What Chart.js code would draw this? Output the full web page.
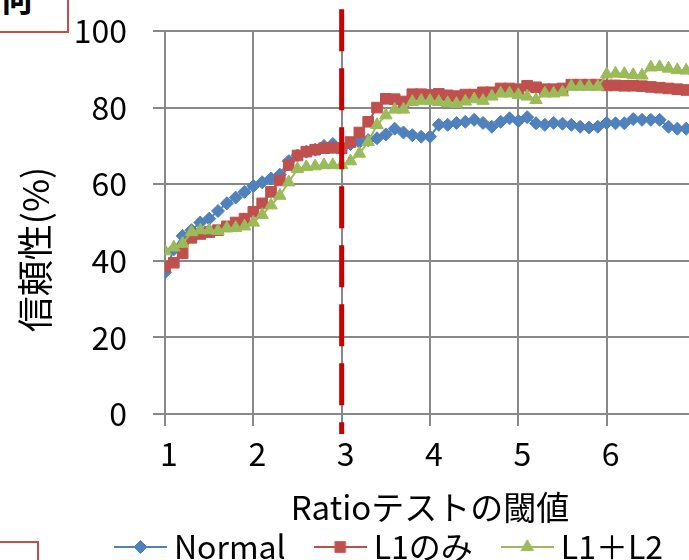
<!DOCTYPE html>
<html>
<head>
<meta charset="utf-8">
<script src="https://cdn.jsdelivr.net/npm/chart.js@4/dist/chart.umd.min.js"></script>
<style>
  html, body { margin: 0; padding: 0; background: #fff; overflow: hidden; width: 689px; height: 560px; }
  #wrap { position: absolute; left: 0; top: 0; width: 786px; height: 573px; }
  .note { position: absolute; box-sizing: border-box; border: 2px solid #c0504d; background: #fff; overflow: hidden; }
  .note span { position: absolute; font: bold 34px "Noto Sans CJK JP", sans-serif; line-height: 1; color: #000; }
</style>
</head>
<body>
<div id="wrap"><canvas id="chart" width="786" height="573"></canvas></div>
<div class="note" style="left:-200px; top:-60px; width:269px; height:93px;"><span style="right:34px; top:39px;">何</span></div>
<div class="note" style="left:-200px; top:541px; width:239px; height:100px;"></div>
<script>
// Ratio test threshold (x axis)
const thresholds = [
  1.0, 1.1, 1.2, 1.3, 1.4, 1.5, 1.6, 1.7, 1.8, 1.9,
  2.0, 2.1, 2.2, 2.3, 2.4, 2.5, 2.6, 2.7, 2.8, 2.9,
  3.0, 3.1, 3.2, 3.3, 3.4, 3.5, 3.6, 3.7, 3.8, 3.9,
  4.0, 4.1, 4.2, 4.3, 4.4, 4.5, 4.6, 4.7, 4.8, 4.9,
  5.0, 5.1, 5.2, 5.3, 5.4, 5.5, 5.6, 5.7, 5.8, 5.9,
  6.0, 6.1, 6.2, 6.3, 6.4, 6.5, 6.6, 6.7, 6.8, 6.9,
  7.0
];

// Reliability (%) per threshold
const normal = [
  37, 43, 46.5, 48, 50, 51, 53, 55, 56.5, 58,
  59.5, 60.5, 61.5, 62.5, 66, 67.5, 68.5, 69, 70, 70.5,
  69.5, 70.5, 71, 71.5, 72, 73, 74.5, 73.5, 72.8, 72.4,
  72.4, 75.5, 75.5, 76, 76.3, 76.8, 76, 75, 76.3, 77.2,
  76.5, 77.5, 75.9, 75.5, 76, 75.8, 75.5, 75, 74.8, 75,
  76, 75.9, 75.9, 77, 76.8, 76.8, 76.8, 75, 74.5, 74.5,
  74.5
];
const l1Only = [
  38.5, 39.5, 42, 46, 47, 47.5, 48, 49, 50, 51,
  52.8, 55, 58, 61, 65, 67.5, 68.5, 69, 69.4, 69.5,
  69.4, 71, 73.5, 76.3, 80, 82.3, 82.2, 81.6, 83.5, 83.5,
  83.3, 83.6, 83.2, 83, 83.4, 83.4, 84, 84, 85, 85,
  84.8, 85.7, 85.3, 84.8, 84.8, 85, 86, 86, 86, 86,
  85.8, 85.8, 85.7, 85.7, 85.6, 85.4, 85.2, 85, 84.8, 84.6,
  84.5
];
const l1PlusL2 = [
  42.5, 43.5, 44.5, 47.5, 48, 48, 47.8, 48.5, 48.6, 49,
  50, 52, 54.5, 57, 60.5, 64, 64.5, 64.7, 65, 65,
  65, 66, 68, 71, 75.5, 78, 79.5, 79.5, 81.5, 81.8,
  81.8, 81.5, 81.2, 81, 81.6, 82.2, 81.8, 82.9, 83.7, 83.7,
  83.3, 82.9, 82, 83.7, 83.7, 84, 85.5, 85.5, 85.5, 85.5,
  88.7, 88.9, 88.8, 88.5, 88.4, 90.5, 90.6, 90.2, 89.8, 89.7,
  89.5
];

// Selected threshold marker (vertical dashed line)
const selectedThreshold = 3;
const markerSpan = [105.7, -5.2];

const seriesNames = ['Normal', 'L1のみ', 'L1＋L2'];
const xTickValues = [1, 2, 3, 4, 5, 6, 7];
const yTickValues = [0, 20, 40, 60, 80, 100];

const FONT = '"Noto Sans CJK JP", sans-serif';
const GRID = '#888888';
const CHART_W = 786;
const PLOT_LEFT = 165;
const PLOT_RIGHT = 695;
const PLOT_BOTTOM = 414;

const styles = [
  { color: '#4f81bd', pointStyle: 'rectRot', radius: 6.5 },
  { color: '#c0504d', pointStyle: 'rect', radius: 7.5 },
  { color: '#9bbb59', pointStyle: 'triangle', radius: 7.2 }
];

// Legend symbols: short line with the series marker in the middle
function legendSymbol(s) {
  const c = document.createElement('canvas');
  c.width = 53; c.height = 18;
  const ctx = c.getContext('2d');
  ctx.strokeStyle = s.color;
  ctx.lineWidth = 2;
  ctx.beginPath(); ctx.moveTo(0, 9); ctx.lineTo(53, 9); ctx.stroke();
  ctx.fillStyle = s.color;
  ctx.lineWidth = 1;
  Chart.helpers.drawPoint(ctx, { pointStyle: s.pointStyle, radius: s.radius, borderWidth: 1, rotation: 0 }, 26.5, 9);
  return c;
}
const symbols = styles.map(legendSymbol);

function toPoints(values) {
  return thresholds.map((t, i) => ({ x: t, y: values[i] }));
}

const seriesValues = [normal, l1Only, l1PlusL2];
const datasets = seriesValues.map((vals, i) => ({
  label: seriesNames[i],
  data: toPoints(vals),
  borderColor: styles[i].color,
  backgroundColor: styles[i].color,
  borderWidth: 2,
  pointStyle: styles[i].pointStyle,
  pointRadius: styles[i].radius,
  pointHoverRadius: styles[i].radius,
  pointBorderWidth: 1,
  pointBorderColor: styles[i].color,
  pointBackgroundColor: styles[i].color,
  tension: 0,
  order: 3 - i
}));

datasets.push({
  label: 'threshold',
  data: markerSpan.map(v => ({ x: selectedThreshold, y: v })),
  borderColor: '#c80000',
  borderWidth: 5,
  borderDash: [42, 17],
  pointRadius: 0,
  pointHoverRadius: 0,
  clip: false,
  order: 0
});

new Chart(document.getElementById('chart'), {
  type: 'line',
  data: { datasets },
  options: {
    responsive: false,
    animation: false,
    events: [],
    layout: { padding: { left: 0, right: 0, top: 31, bottom: 0 } },
    plugins: {
      tooltip: { enabled: false },
      legend: {
        position: 'bottom',
        labels: {
          color: '#000',
          font: { family: FONT, size: 32 },
          usePointStyle: true,
          pointStyleWidth: 35,
          padding: 37,
          generateLabels(chart) {
            return seriesNames.map((name, i) => ({
              text: name,
              fillStyle: styles[i].color,
              strokeStyle: styles[i].color,
              lineWidth: 0,
              pointStyle: symbols[i],
              hidden: false,
              datasetIndex: i,
              fontColor: '#000'
            }));
          }
        }
      }
    },
    scales: {
      x: {
        type: 'linear',
        min: 1,
        max: 7,
        afterBuildTicks(scale) { scale.ticks = xTickValues.map(v => ({ value: v })); },
        afterFit(scale) {
          scale.height = scale.chart.height - scale.chart.legend.height - PLOT_BOTTOM;
        },
        grid: { color: GRID, lineWidth: 2, tickLength: 12, tickColor: GRID },
        border: { color: GRID, width: 2 },
        ticks: {
          color: '#000',
          font: { family: FONT, size: 32 },
          labelOffset: 4,
          padding: 9,
          maxRotation: 0,
          autoSkip: false
        },
        title: {
          display: true,
          text: 'Ratioテストの閾値',
          color: '#000',
          font: { family: FONT, size: 33 },
          padding: { top: 0, bottom: -33 }
        }
      },
      y: {
        type: 'linear',
        min: 0,
        max: 100,
        afterBuildTicks(scale) { scale.ticks = yTickValues.map(v => ({ value: v })); },
        afterFit(scale) {
          scale.width = PLOT_LEFT;
          scale.paddingTop = 0;
          scale.paddingBottom = 0;
        },
        grid: { color: GRID, lineWidth: 2, tickLength: 12, tickColor: GRID },
        border: { color: GRID, width: 2 },
        ticks: {
          color: '#000',
          font: { family: FONT, size: 32 },
          padding: 26
        },
        title: {
          display: true,
          text: '信頼性(%)\u3000\u2002',
          color: '#000',
          font: { family: FONT, size: 36 },
          padding: { top: 14, bottom: 0 }
        }
      },
      spacer: {
        type: 'linear',
        position: 'right',
        display: true,
        grid: { display: false, drawTicks: false },
        border: { display: false },
        ticks: { display: false },
        afterFit(scale) { scale.width = CHART_W - PLOT_RIGHT; }
      }
    }
  }
});
</script>
</body>
</html>
